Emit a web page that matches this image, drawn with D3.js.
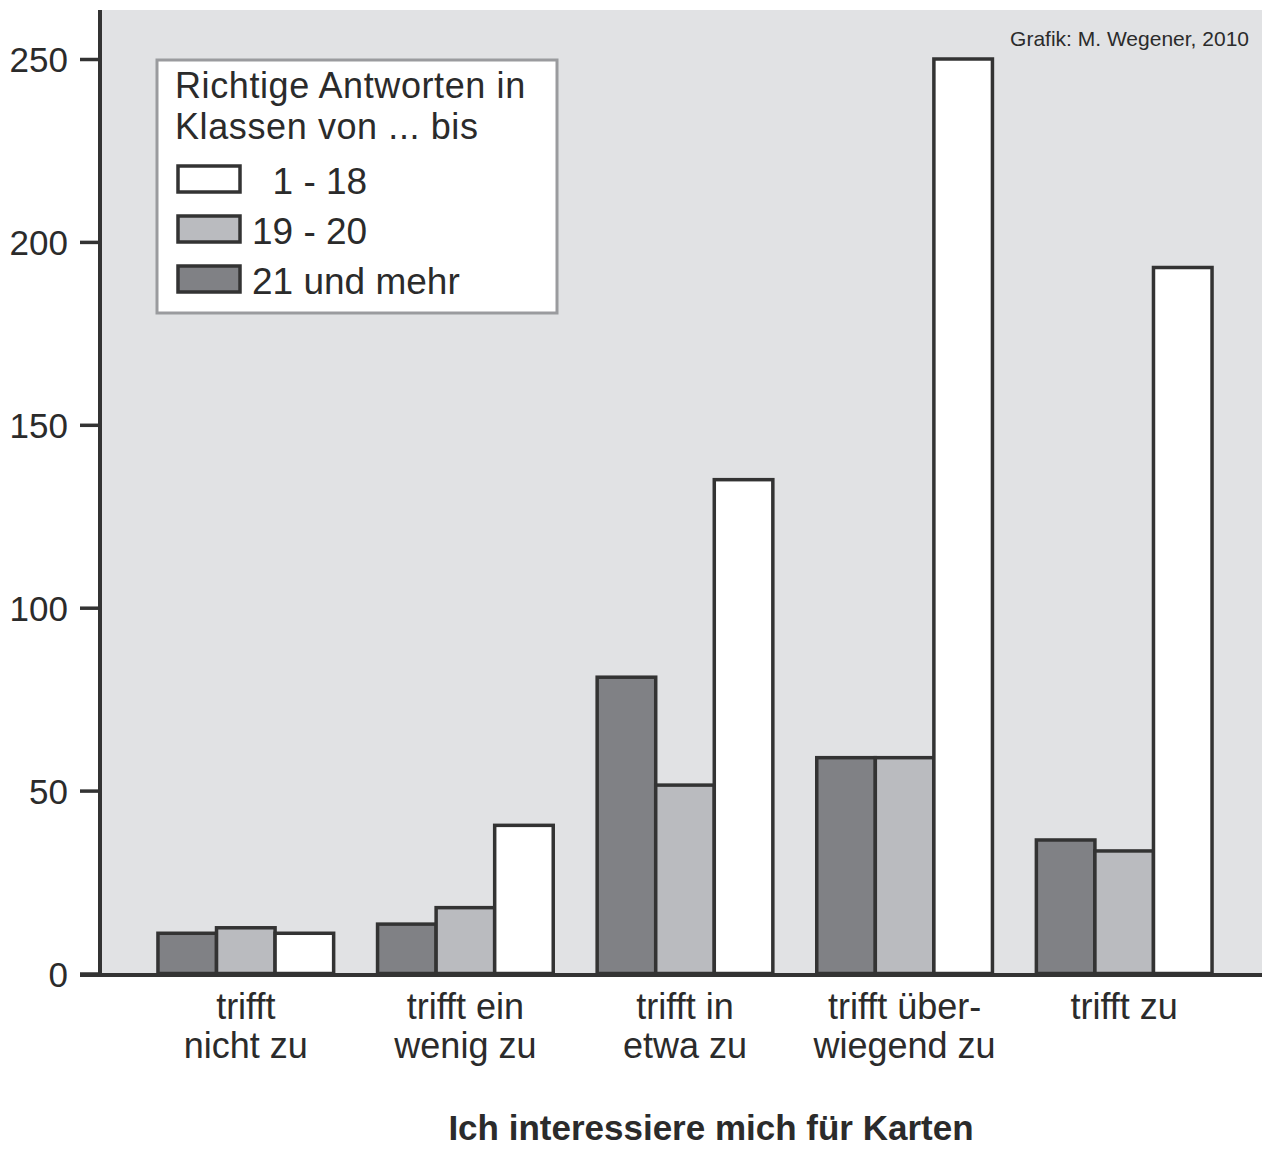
<!DOCTYPE html>
<html lang="de">
<head>
  <meta charset="utf-8">
  <script src="https://d3js.org/d3.v7.min.js"></script>
  <style>
    body { margin: 0; background: #fff; }
    text { font-family: "Liberation Sans", Arial, sans-serif; fill: #2b2b2b; }
  </style>
</head>
<body>
  <div id="my_dataviz"></div>
  <script>
    // data
    const categories = [["trifft", "nicht zu"], ["trifft ein", "wenig zu"], ["trifft in", "etwa zu"], ["trifft über-", "wiegend zu"], ["trifft zu"]];
    const seriesNames = ["21 und mehr", "19 - 20", "1 - 18"];
    const legendLabels = ["  1 - 18", "19 - 20", "21 und mehr"];
    const legendOrder = [2, 1, 0];
    const values21plus = [11, 13.5, 81, 59, 36.5];
    const values19to20 = [12.5, 18, 51.5, 59, 33.5];
    const values1to18 = [11, 40.5, 135, 250, 193];
    const yTicks = [0, 50, 100, 150, 200, 250];
    const colors = ["#808185", "#babbbf", "#ffffff"];

    const series = [values21plus, values19to20, values1to18];

    const W = 1262, H = 1149;
    const plotLeft = 100, plotTop = 10, plotBottom = 975, plotRight = 1262;

    const svg = d3.select("#my_dataviz")
      .append("svg")
        .attr("width", W)
        .attr("height", H)
        .style("display", "block");

    // gray plot background
    svg.append("rect")
      .attr("x", plotLeft)
      .attr("y", plotTop)
      .attr("width", plotRight - plotLeft)
      .attr("height", plotBottom - plotTop)
      .attr("fill", "#e1e2e4");

    const y = d3.scaleLinear()
      .domain([0, 250])
      .range([plotBottom - 1.5, 59]);

    const x = d3.scaleBand()
      .domain(d3.range(categories.length))
      .range([136, 1234])
      .paddingInner(0.2)
      .paddingOuter(0.1);

    const xSub = d3.scaleBand()
      .domain(d3.range(series.length))
      .range([0, x.bandwidth()]);

    // bars
    const groups = svg.selectAll("g.group")
      .data(categories)
      .join("g")
        .attr("class", "group")
        .attr("transform", (d, i) => `translate(${x(i)},0)`);

    groups.selectAll("rect")
      .data((d, i) => series.map((s, k) => ({k: k, v: s[i]})))
      .join("rect")
        .attr("x", d => xSub(d.k))
        .attr("y", d => y(d.v))
        .attr("width", xSub.bandwidth())
        .attr("height", d => y(0) - y(d.v))
        .attr("fill", d => colors[d.k])
        .attr("stroke", "#333")
        .attr("stroke-width", 3.5);

    // Y axis
    const yAxis = svg.append("g")
      .attr("transform", `translate(${plotLeft},0)`)
      .call(d3.axisLeft(y).tickValues(yTicks).tickSize(20).tickPadding(12));
    yAxis.select(".domain").remove();
    yAxis.selectAll(".tick line").attr("stroke", "#333").attr("stroke-width", 3.5);
    yAxis.selectAll(".tick text")
      .style("font-size", "35px")
      .attr("fill", "#2b2b2b")
      .attr("dy", "0.36em")
      .style("font-family", "'Liberation Sans', Arial, sans-serif");

    // axis lines
    svg.append("line")
      .attr("x1", plotLeft).attr("x2", plotLeft)
      .attr("y1", plotTop).attr("y2", plotBottom + 2)
      .attr("stroke", "#333").attr("stroke-width", 4);
    svg.append("line")
      .attr("x1", 80).attr("x2", plotRight)
      .attr("y1", plotBottom).attr("y2", plotBottom)
      .attr("stroke", "#333").attr("stroke-width", 4);

    // category labels
    const catText = svg.selectAll("text.cat")
      .data(categories)
      .join("text")
        .attr("class", "cat")
        .attr("text-anchor", "middle")
        .style("font-size", "36px");
    catText.selectAll("tspan")
      .data((d, i) => d.map(line => ({line: line, i: i})))
      .join("tspan")
        .attr("x", d => x(d.i) + x.bandwidth() / 2)
        .attr("y", (d, j) => 1019 + j * 39)
        .text(d => d.line);

    // axis title
    svg.append("text")
      .attr("x", 711)
      .attr("y", 1140)
      .attr("text-anchor", "middle")
      .style("font-size", "35px")
      .style("font-weight", "bold")
      .text("Ich interessiere mich für Karten");

    // credit
    svg.append("text")
      .attr("x", 1249)
      .attr("y", 46)
      .attr("text-anchor", "end")
      .style("font-size", "21px")
      .text("Grafik: M. Wegener, 2010");

    // legend
    const legend = svg.append("g").attr("transform", "translate(157,60)");
    legend.append("rect")
      .attr("width", 400)
      .attr("height", 253)
      .attr("fill", "#fff")
      .attr("stroke", "#9a9b9e")
      .attr("stroke-width", 3);
    legend.append("text")
      .attr("x", 18)
      .attr("y", 38)
      .style("font-size", "36px")
      .style("letter-spacing", "0.6px")
      .text("Richtige Antworten in");
    legend.append("text")
      .attr("x", 18)
      .attr("y", 79)
      .style("font-size", "36px")
      .style("letter-spacing", "0.6px")
      .text("Klassen von ... bis");
    const items = legend.selectAll("g.item")
      .data(legendOrder)
      .join("g")
        .attr("class", "item")
        .attr("transform", (d, i) => `translate(21,${106 + i * 50})`);
    items.append("rect")
      .attr("width", 62)
      .attr("height", 26)
      .attr("fill", d => colors[d])
      .attr("stroke", "#333")
      .attr("stroke-width", 3.5);
    items.append("text")
      .attr("x", 74)
      .attr("y", 28)
      .style("font-size", "37px")
      .style("white-space", "pre")
      .attr("xml:space", "preserve")
      .text((d, i) => legendLabels[i]);
  </script>
</body>
</html>
